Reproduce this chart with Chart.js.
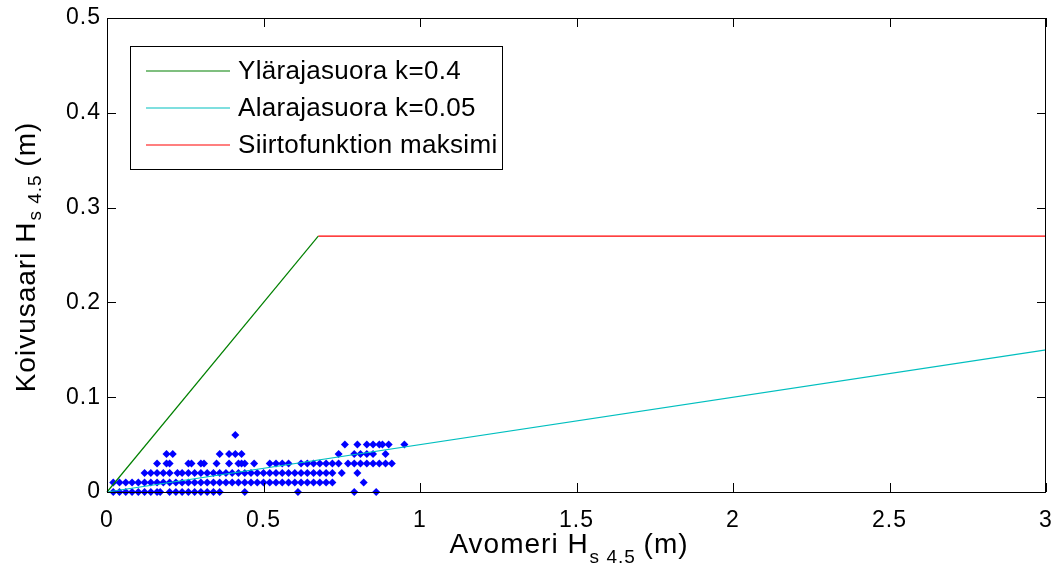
<!DOCTYPE html>
<html>
<head>
<meta charset="utf-8">
<script src="https://cdn.jsdelivr.net/npm/chart.js@4.4.0/dist/chart.umd.min.js"></script>
<style>
  body { margin: 0; background: #fff; }
  #wrap { width: 1056px; height: 574px; }
</style>
</head>
<body>
<div id="wrap"><canvas id="myChart" width="1056" height="574"></canvas></div>
<script>

// measured points, one list of x values per y level (m)
const levels = [0, 0.01, 0.02, 0.03, 0.04, 0.05, 0.06];
const row0 = [0.02, 0.04, 0.06, 0.08, 0.10, 0.12, 0.14, 0.16, 0.17, 0.20, 0.22, 0.24, 0.26, 0.28, 0.30, 0.32, 0.34, 0.36, 0.44, 0.61, 0.79, 0.86];
const row1 = [0.02, 0.04, 0.06, 0.08, 0.10, 0.12, 0.14, 0.16, 0.18, 0.20, 0.22, 0.24, 0.26, 0.28, 0.30, 0.32, 0.34, 0.36, 0.38, 0.40, 0.42, 0.44, 0.46, 0.48, 0.50, 0.52, 0.54, 0.56, 0.58, 0.60, 0.62, 0.64, 0.66, 0.68, 0.70, 0.72, 0.82];
const row2 = [0.12, 0.14, 0.16, 0.18, 0.20, 0.225, 0.24, 0.26, 0.28, 0.30, 0.32, 0.34, 0.36, 0.38, 0.40, 0.42, 0.44, 0.46, 0.48, 0.50, 0.52, 0.54, 0.56, 0.58, 0.60, 0.62, 0.64, 0.66, 0.68, 0.70, 0.72, 0.75, 0.80];
const row3 = [0.16, 0.19, 0.20, 0.26, 0.27, 0.30, 0.31, 0.35, 0.39, 0.42, 0.43, 0.44, 0.47, 0.52, 0.54, 0.56, 0.58, 0.62, 0.64, 0.66, 0.68, 0.70, 0.72, 0.74, 0.77, 0.79, 0.81, 0.83, 0.85, 0.87, 0.89, 0.91];
const row4 = [0.19, 0.21, 0.36, 0.39, 0.41, 0.43, 0.74, 0.79, 0.81, 0.83, 0.85, 0.89];
const row5 = [0.76, 0.80, 0.83, 0.85, 0.87, 0.88, 0.90, 0.95];
const row6 = [0.41];

// limit lines
const upperX = [0, 0.675];
const upperY = [0, 0.27];
const lowerX = [0, 3];
const lowerY = [0, 0.15];
const maxX = [0.675, 3];
const maxY = [0.27, 0.27];

const xTicks = [0, 0.5, 1, 1.5, 2, 2.5, 3];
const yTicks = [0, 0.1, 0.2, 0.3, 0.4, 0.5];

const FONT = "'Liberation Sans', Arial, sans-serif";

function toPoints(xs, ys){
  return xs.map((x, i) => ({x: x, y: ys[i]}))
}

const rows = [row0, row1, row2, row3, row4, row5, row6];
const scatterPts = [];
rows.forEach((xs, i) => {
  xs.forEach((x) => scatterPts.push({x: x, y: levels[i]}))
});

const lineDs = (label, xs, ys, color) => ({
  label: label,
  data: toPoints(xs, ys),
  showLine: true,
  borderColor: color,
  backgroundColor: color,
  borderWidth: 1.2,
  pointRadius: 0,
  clip: false,
  inLegend: true
});

// box, inward ticks, legend and axis titles like the matlab figure
const matlabAxes = {
  id: 'matlabAxes',
  beforeDraw(chart){
    // matlab text is a bit wider than liberation sans
    chart.ctx.letterSpacing = '1px';
  },
  afterDatasetsDraw(chart){
    const ctx = chart.ctx;
    const a = chart.chartArea;
    const sx = chart.scales.x, sy = chart.scales.y;
    ctx.save();
    ctx.strokeStyle = '#000';
    ctx.lineWidth = 1;
    ctx.strokeRect(a.left + 0.5, a.top + 0.5, a.right - a.left - 1, a.bottom - a.top);
    ctx.beginPath();
    xTicks.forEach((v) => {
      const px = Math.round(sx.getPixelForValue(v)) + 0.5;
      ctx.moveTo(px, a.bottom); ctx.lineTo(px, a.bottom - 9);
      ctx.moveTo(px, a.top); ctx.lineTo(px, a.top + 9);
    });
    yTicks.forEach((v) => {
      const py = Math.round(sy.getPixelForValue(v)) + 0.5;
      ctx.moveTo(a.left, py); ctx.lineTo(a.left + 9, py);
      ctx.moveTo(a.right, py); ctx.lineTo(a.right - 9, py);
    });
    ctx.stroke();

    // legend
    const lx = 130, ly = 46, lw = 372, lh = 123;
    ctx.fillStyle = '#fff';
    ctx.fillRect(lx, ly, lw, lh);
    ctx.strokeRect(lx + 0.5, ly + 0.5, lw, lh);
    const rowsY = [71, 108, 145];
    ctx.font = '26px ' + FONT;
    ctx.letterSpacing = '0.3px';
    ctx.textBaseline = 'middle';
    ctx.textAlign = 'left';
    chart.data.datasets.filter(d => d.inLegend).forEach((d, i) => {
      ctx.strokeStyle = d.borderColor;
      ctx.lineWidth = 1.2;
      ctx.beginPath();
      ctx.moveTo(146, rowsY[i]); ctx.lineTo(230, rowsY[i]);
      ctx.stroke();
      ctx.fillStyle = '#000';
      ctx.fillText(d.label, 238, rowsY[i] + 1);
    });

    // axis titles with subscript
    ctx.letterSpacing = '1px';
    drawTitle(ctx, 'Avomeri H', 's 4.5', ' (m)', 569, 553, 0, 10);
    drawTitle(ctx, 'Koivusaari H', 's 4.5', ' (m)', 257, 35, -Math.PI / 2, 6);
    ctx.restore();
  }
};

function drawTitle(ctx, main, sub, tail, center, base, rot, subDrop){
  ctx.save();
  ctx.fillStyle = '#000';
  ctx.textBaseline = 'alphabetic';
  ctx.textAlign = 'left';
  const big = '28px ' + FONT, small = '19px ' + FONT;
  ctx.font = big;
  const w1 = ctx.measureText(main).width;
  const w3 = ctx.measureText(tail).width;
  ctx.font = small;
  const w2 = ctx.measureText(sub).width;
  const total = w1 + w2 + w3;
  if (rot) {
    ctx.translate(base, center);
    ctx.rotate(rot);
    center = 0; base = 0;
  }
  let x0 = center - total / 2;
  ctx.font = big;
  ctx.fillText(main, x0, base);
  ctx.font = small;
  ctx.fillText(sub, x0 + w1 + 1, base + subDrop);
  ctx.font = big;
  ctx.fillText(tail, x0 + w1 + w2, base);
  ctx.restore();
}

const data = {
  datasets: [
    lineDs('Ylärajasuora k=0.4', upperX, upperY, '#008000'),
    lineDs('Alarajasuora k=0.05', lowerX, lowerY, '#00bfbf'),
    lineDs('Siirtofunktion maksimi', maxX, maxY, '#ff0000'),
    {
      label: 'Havainnot',
      data: scatterPts,
      pointStyle: 'rectRot',
      pointRadius: 4,
      backgroundColor: '#0000ff',
      borderWidth: 0,
      clip: false
    }
  ]
};

const noPad = (s) => { s.paddingLeft = 0; s.paddingRight = 0; s.paddingTop = 0; s.paddingBottom = 0 };

const config = {
  type: 'scatter',
  data: data,
  options: {
    responsive: false,
    animation: false,
    layout: { padding: { top: 18, right: 10, left: 0, bottom: 0 } },
    plugins: {
      legend: { display: false },
      tooltip: { enabled: false }
    },
    scales: {
      x: {
        type: 'linear',
        min: 0, max: 3,
        afterFit: (s) => { s.height = 82; noPad(s) },
        afterBuildTicks: (s) => { s.ticks = xTicks.map(v => ({value: v})) },
        grid: { display: false, drawTicks: false },
        border: { display: false },
        ticks: { color: '#000', padding: 15, font: { family: FONT, size: 23 }, callback: (v) => String(v) }
      },
      y: {
        type: 'linear',
        min: 0, max: 0.5,
        afterFit: (s) => { s.width = 107; noPad(s) },
        afterBuildTicks: (s) => { s.ticks = yTicks.map(v => ({value: v})) },
        grid: { display: false, drawTicks: false },
        border: { display: false },
        ticks: { color: '#000', padding: 6, font: { family: FONT, size: 23 }, callback: (v) => String(v) }
      }
    }
  },
  plugins: [matlabAxes]
};

const myChart = new Chart(document.getElementById('myChart'), config);
</script>
</body>
</html>
